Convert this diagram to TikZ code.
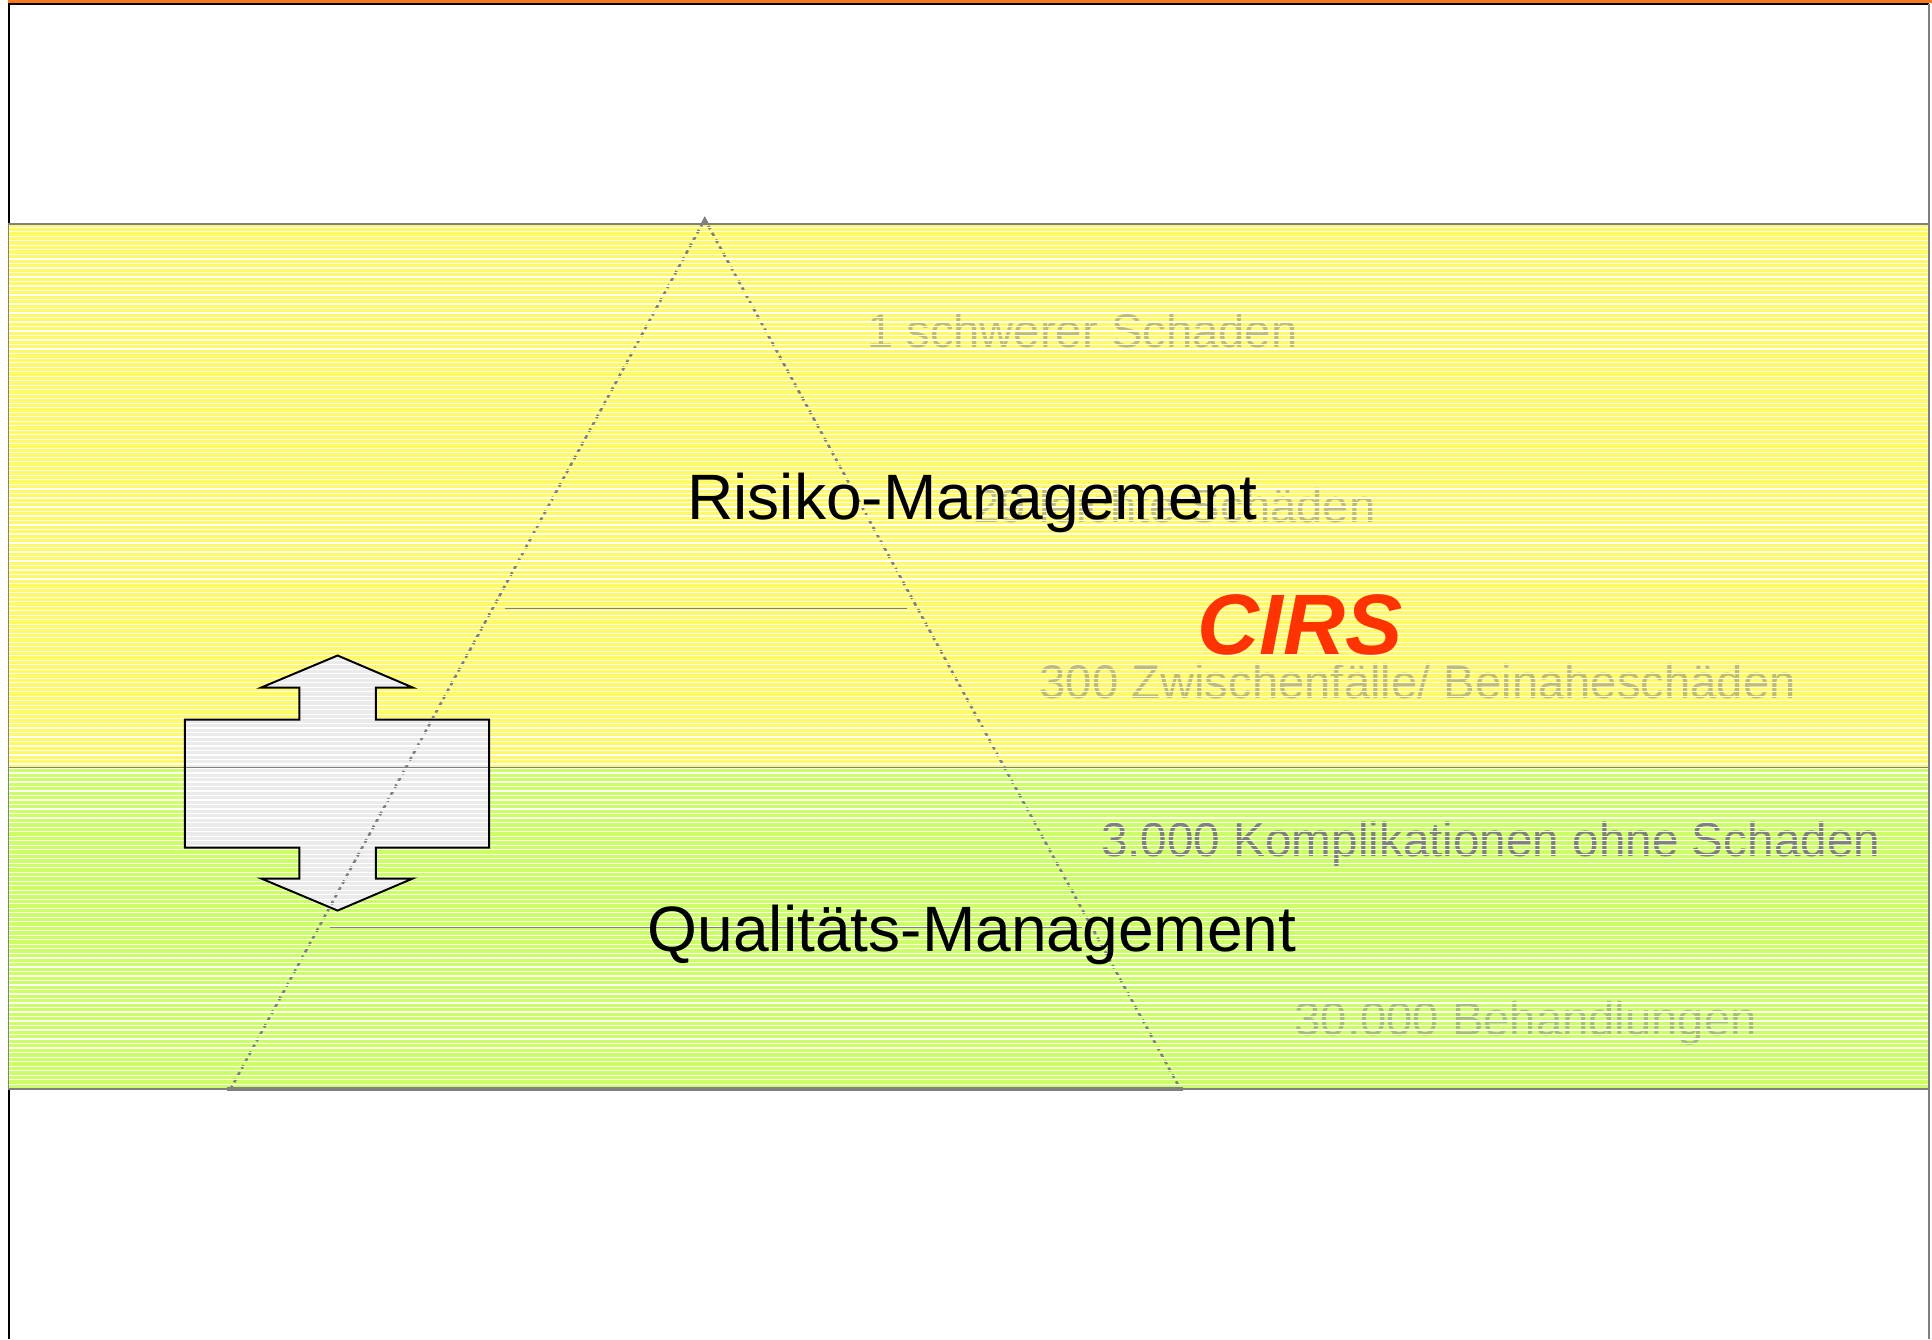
\documentclass[tikz,border=0pt]{standalone}
\usepackage{fontspec}
\setmainfont{Liberation Sans}

\definecolor{bandyellow}{RGB}{255,250,102}
\definecolor{bandgreen}{RGB}{204,255,102}
\definecolor{cirsred}{RGB}{255,51,0}
\definecolor{topbar}{RGB}{255,120,30}

\begin{document}
\begin{tikzpicture}[
            x = 0.01cm, y = -0.01cm, % work in picture pixels, y downwards
            band/.style = {draw = gray, line width = 0.4pt},
            level/.style = {inner sep = 0pt, font = \fontsize{14.8}{17}\selectfont},
            ghost/.style = {inner sep = 0pt, text = gray, opacity = 0.5,
                font = \fontsize{10.9}{13}\selectfont},
            side/.style = {draw = gray, line width = 0.6pt,
                dash pattern = on 0.9pt off 0.9pt}
        ]

        \useasboundingbox (0,0) rectangle (1568,1087);
        \fill[white] (0,0) rectangle (1568,1087);

        % page frame
        \draw[black, line width = 0.5pt] (7,1087) -- (7,3.3) -- (1565.5,3.3);
        \draw[gray, line width = 0.5pt] (1565.5,3.3) -- (1565.5,1087);
        \fill[topbar] (6.5,0) rectangle (1568,2.8);

        % the two bands
        \fill[bandyellow] (7,182) rectangle (1565.5,623);
        \fill[bandgreen] (7,623) rectangle (1565.5,884);

        % levels of the pyramid
        \node (one) [ghost, anchor = base west] at (703,282) {1 schwerer Schaden};
        \node (light) [ghost, anchor = base east] at (1117,424) {29 leichte Schäden};
        \node (near) [ghost, anchor = base west] at (843,567) {300 Zwischenfälle/ Beinaheschäden};
        \node (treat) [ghost, anchor = base west] at (1050,840) {30.000 Behandlungen};
        \node (compl) [inner sep = 0pt, anchor = base west, text = black!50,
            font = \fontsize{11}{13}\selectfont] at (893,695) {3.000 Komplikationen ohne Schaden};

        % double arrow between the two fields
        \path[fill = black!8] (274,532) -- (335,558) -- (305,558) -- (305,584)
            -- (397,584) -- (397,688) -- (305,688) -- (305,713) -- (335,713)
            -- (274,739) -- (212,713) -- (243,713) -- (243,688) -- (150,688)
            -- (150,584) -- (243,584) -- (243,558) -- (212,558) -- cycle;

        % pyramid
        \draw[side] (187,884) -- (572,178) -- (958,884);
        \fill[gray] (568.5,182) -- (572,175.5) -- (575.5,182) -- cycle;
        \draw[gray, line width = 0.3pt] (410,494) -- (736,494);
        \draw[gray, line width = 0.3pt] (268,753) -- (878,753);

        % horizontal hatching over the bands
        \begin{scope}
            \clip (7,182) rectangle (1565.5,884);
            \foreach \y in {184.5,188.16,...,884}
                \draw[white, line width = 0.28pt] (7,\y) -- (1565.5,\y);
        \end{scope}

        \draw[band] (7,182) rectangle (1565.5,884);
        \draw[gray, line width = 0.3pt] (7,623) -- (1565.5,623);
        \draw[gray, line width = 0.9pt] (184,884) -- (960,884); % pyramid base

        \draw[black, line width = 0.45pt, line join = miter]
            (274,532) -- (335,558) -- (305,558) -- (305,584)
            -- (397,584) -- (397,688) -- (305,688) -- (305,713) -- (335,713)
            -- (274,739) -- (212,713) -- (243,713) -- (243,688) -- (150,688)
            -- (150,584) -- (243,584) -- (243,558) -- (212,558) -- cycle;

        \node (risk) [level, anchor = base west] at (557,422) {Risiko-Management};
        \node (qual) [level, anchor = base west] at (525,772) {Qualitäts-Management};
        \node (cirs) [inner sep = 0pt, anchor = base west, text = cirsred,
            font = \fontsize{19.8}{22}\selectfont\bfseries\itshape] at (971,531) {CIRS};

    \end{tikzpicture}
\end{document}
